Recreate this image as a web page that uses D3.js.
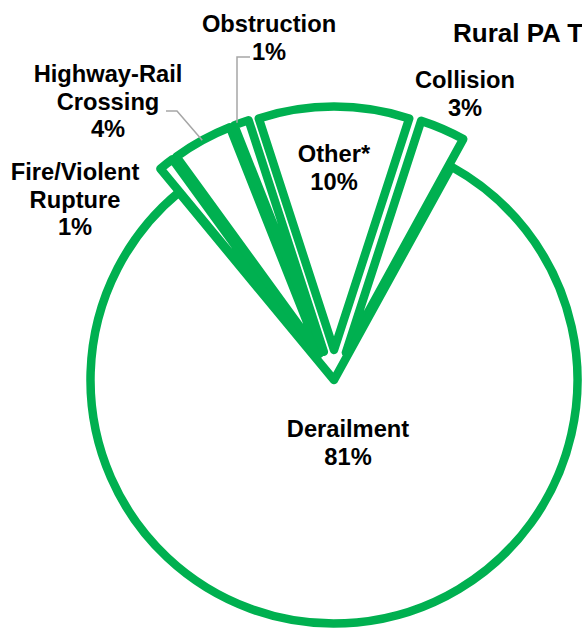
<!DOCTYPE html>
<html>
<head>
<meta charset="utf-8">
<script src="https://cdn.jsdelivr.net/npm/d3@7"></script>
<style>
  body { margin: 0; background: #fff; overflow: hidden; }
  text { font-family: "Liberation Sans", Arial, sans-serif; font-weight: bold; fill: #000; }
</style>
</head>
<body>
<div class="chart"></div>
<script>
// data (percent of accidents)
var categories = ["Other*", "Collision", "Derailment", "Fire/Violent Rupture", "Highway-Rail Crossing", "Obstruction"];
var values = [10, 3, 81, 1, 4, 1];
var labelLines = [["Other*"], ["Collision"], ["Derailment"], ["Fire/Violent", "Rupture"], ["Highway-Rail", "Crossing"], ["Obstruction"]];
var title = "Rural PA Train Accidents by Cause";

var width = 582, height = 629;
var cx = 334, cy = 380, radius = 243.5;
var green = "#00b050";

// where excel put each label block (centre x, first baseline)
var labelPos = {
    "Other*": [334, 162],
    "Collision": [465, 88],
    "Derailment": [348, 437],
    "Fire/Violent Rupture": [75, 180],
    "Highway-Rail Crossing": [108, 82],
    "Obstruction": [269, 32]
};

var rows = categories.map(function(c, i){ return {cat: c, value: values[i], lines: labelLines[i]}; });

var svg = d3.select(".chart").append("svg")
    .attr("width", width)
    .attr("height", height);

var start = -18 * Math.PI / 180; // first slice centred on 12 o'clock
var pie = d3.pie()
    .sort(null)
    .value(function(d){ return d.value; })
    .startAngle(start)
    .endAngle(start + 2 * Math.PI);

var arc = d3.arc().innerRadius(0).outerRadius(radius);

function explode(d){ return d.data.cat === "Derailment" ? 0 : 30; }
function mid(d){ return (d.startAngle + d.endAngle) / 2; }
function offset(d){
    var a = mid(d), e = explode(d);
    return [e * Math.sin(a), -e * Math.cos(a)];
}

var arcs = pie(rows);

var g = svg.append("g").attr("transform", "translate(" + cx + "," + cy + ")");

g.selectAll("path")
    .data(arcs)
    .enter()
    .append("path")
    .attr("transform", function(d){ var o = offset(d); return "translate(" + o[0] + "," + o[1] + ")"; })
    .attr("d", arc)
    .attr("fill", "#fff")
    .attr("stroke", green)
    .attr("stroke-width", 8.5)
    .attr("stroke-linejoin", "round");

// leader lines for the two thin slices on the upper left
var leaders = {"Highway-Rail Crossing": [[166, 111], [177, 111]], "Obstruction": [[250, 57], [237, 57]]};
arcs.forEach(function(d){
    var pts = leaders[d.data.cat];
    if (!pts) return;
    var o = offset(d), a = mid(d);
    var ex = cx + o[0] + radius * Math.sin(a), ey = cy + o[1] - radius * Math.cos(a);
    var end = d.data.cat === "Obstruction" ? [pts[1][0], ey] : [ex, ey];
    svg.append("path")
        .attr("d", d3.line()(pts.concat([end])))
        .attr("fill", "none")
        .attr("stroke", "#a6a6a6")
        .attr("stroke-width", 1.5);
});

var labels = svg.selectAll("text.lbl")
    .data(arcs)
    .enter()
    .append("text")
    .attr("class", "lbl")
    .attr("text-anchor", "middle")
    .style("font-size", "23.7px");

labels.each(function(d){
    var p = labelPos[d.data.cat];
    var t = d3.select(this);
    var lines = d.data.lines.concat([d3.format(".0f")(d.data.value) + "%"]);
    lines.forEach(function(s, i){
        t.append("tspan").attr("x", p[0]).attr("y", p[1] + i * 27.5).text(s);
    });
});

// title runs off the right edge, as in the original
svg.append("text")
    .attr("x", 453)
    .attr("y", 42)
    .style("font-size", "26px")
    .text(title);
</script>
</body>
</html>
